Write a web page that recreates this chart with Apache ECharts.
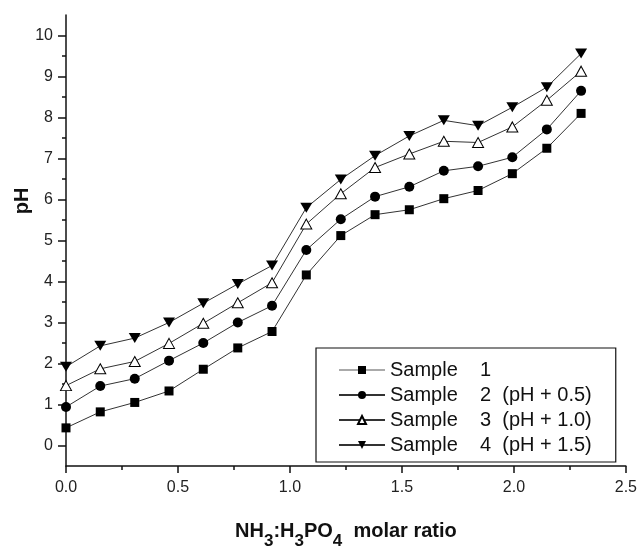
<!DOCTYPE html>
<html>
<head>
<meta charset="utf-8">
<script src="https://cdn.jsdelivr.net/npm/echarts@6/dist/echarts.min.js"></script>
<style>html,body{margin:0;padding:0;background:#fff;}#c{width:640px;height:555px;}</style>
</head>
<body>
<div id="c"></div>
<script>
const xValues = [0, 0.153, 0.307, 0.46, 0.613, 0.767, 0.92, 1.073, 1.227, 1.38, 1.533, 1.687, 1.84, 1.993, 2.147, 2.3];
const sample1 = [0.43, 0.82, 1.05, 1.33, 1.86, 2.38, 2.78, 4.16, 5.12, 5.63, 5.75, 6.02, 6.22, 6.63, 7.25, 8.1];
const sample2 = [0.94, 1.45, 1.63, 2.07, 2.50, 3.00, 3.41, 4.77, 5.52, 6.07, 6.31, 6.70, 6.81, 7.03, 7.71, 8.65];
const sample3 = [1.46, 1.87, 2.05, 2.49, 2.98, 3.48, 3.97, 5.40, 6.14, 6.78, 7.11, 7.42, 7.39, 7.77, 8.42, 9.13];
const sample4 = [1.92, 2.43, 2.62, 3.00, 3.47, 3.94, 4.39, 5.80, 6.49, 7.07, 7.55, 7.93, 7.80, 8.25, 8.74, 9.56];
const seriesNames = ['Sample 1', 'Sample 2', 'Sample 3', 'Sample 4'];
const legendLabels = ['Sample    1', 'Sample    2  (pH + 0.5)', 'Sample    3  (pH + 1.0)', 'Sample    4  (pH + 1.5)'];
const yMajorTicks = [0, 1, 2, 3, 4, 5, 6, 7, 8, 9, 10];
const yMinorTicks = [0.5, 1.5, 2.5, 3.5, 4.5, 5.5, 6.5, 7.5, 8.5, 9.5];

const FONT = 'Liberation Sans, Arial, sans-serif';
function pts(arr) { return xValues.map((x, i) => [x, arr[i]]); }

const chart = echarts.init(document.getElementById('c'), null, {renderer: 'canvas'});
const lineStyle = {color: '#333', width: 1};
chart.setOption({
  animation: false,
  backgroundColor: '#fff',
  grid: {left: 66, right: 11, top: 15, bottom: 82, containLabel: false},
  xAxis: {
    type: 'value', min: 0, max: 2.5, interval: 0.5,
    axisLine: {onZero: false, lineStyle: {color: '#111', width: 1.5}},
    axisTick: {show: true, length: 7, lineStyle: {color: '#111', width: 1.5}},
    minorTick: {show: true, splitNumber: 2, length: 4, lineStyle: {color: '#111', width: 1.5}},
    splitLine: {show: false}, minorSplitLine: {show: false},
    axisLabel: {color: '#222', fontFamily: FONT, fontSize: 16, margin: 14, formatter: v => v.toFixed(1), showMaxLabel: true},
    name: '{a|NH}{s|3}{a|:H}{s|3}{a|PO}{s|4}{a|  molar ratio}',
    nameLocation: 'middle', nameGap: 55,
    nameTextStyle: {
      rich: {
        a: {fontFamily: FONT, fontWeight: 'bold', fontSize: 20, color: '#111', lineHeight: 24, verticalAlign: 'top'},
        s: {fontFamily: FONT, fontWeight: 'bold', fontSize: 17, color: '#111', verticalAlign: 'top', padding: [12, 0, 0, 0], lineHeight: 17}
      }
    }
  },
  yAxis: [{
    type: 'value', min: -0.5, max: 10.5,
    axisLine: {onZero: false, lineStyle: {color: '#111', width: 1.5}},
    axisTick: {show: true, length: 8, customValues: yMajorTicks, lineStyle: {color: '#111', width: 1.5}},
    splitLine: {show: false},
    axisLabel: {color: '#222', fontFamily: FONT, fontSize: 16, margin: 13, customValues: yMajorTicks}
  }, {
    type: 'value', min: -0.5, max: 10.5, position: 'left',
    axisLine: {show: false, onZero: false},
    axisTick: {show: true, length: 4, customValues: yMinorTicks, lineStyle: {color: '#111', width: 1.5}},
    splitLine: {show: false},
    axisLabel: {show: false}
  }],
  legend: {
    orient: 'vertical', left: 316, top: 348,
    backgroundColor: '#fff', borderColor: '#111', borderWidth: 1.2,
    padding: [12, 24, 7, 22],
    itemWidth: 46, itemHeight: 10, itemGap: 5,
    textStyle: {fontFamily: FONT, fontSize: 20, color: '#111', lineHeight: 19},
    formatter: name => legendLabels[seriesNames.indexOf(name)],
    data: [
      {name: seriesNames[0], lineStyle: {color: '#aaa'}},
      {name: seriesNames[1]},
      {name: seriesNames[2]},
      {name: seriesNames[3]}
    ]
  },
  graphic: [{
    type: 'text', x: 22, y: 201, rotation: Math.PI / 2,
    style: {text: 'pH', font: 'bold 20px ' + FONT, fill: '#111', textAlign: 'center', textVerticalAlign: 'middle'}
  }],
  series: [
    {name: seriesNames[0], type: 'line', data: pts(sample1), symbol: 'rect', symbolSize: 9,
     lineStyle: lineStyle, itemStyle: {color: '#000'}},
    {name: seriesNames[1], type: 'line', data: pts(sample2), symbol: 'circle', symbolSize: 10,
     lineStyle: lineStyle, itemStyle: {color: '#000'}},
    {name: seriesNames[2], type: 'line', data: pts(sample3), symbol: 'triangle', symbolSize: [11, 10],
     lineStyle: lineStyle, itemStyle: {color: '#fff', borderColor: '#000', borderWidth: 1}},
    {name: seriesNames[3], type: 'line', data: pts(sample4), symbol: 'triangle', symbolRotate: 180, symbolSize: [12, 10],
     lineStyle: lineStyle, itemStyle: {color: '#000'}}
  ]
});
</script>
</body>
</html>
